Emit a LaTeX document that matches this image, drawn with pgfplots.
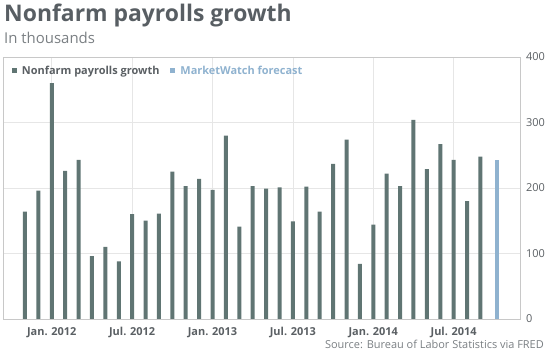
\documentclass[border=0pt]{standalone}
\usepackage{pgfplots}
\pgfplotsset{compat=1.18}
\usepackage{fontspec}
\setmainfont{Open Sans}
\definecolor{barc}{HTML}{607573}
\definecolor{fcst}{HTML}{8FB2CF}
\definecolor{titlec}{HTML}{585E63}
\definecolor{subc}{HTML}{7A7F83}
\definecolor{gridc}{HTML}{E6E6E6}
\definecolor{framec}{HTML}{C8C8C8}
\definecolor{tickc}{HTML}{5A5F63}
\pgfplotstableread{
m v
0 164
1 196
2 360
3 226
4 243
5 96
6 110
7 88
8 160
9 150
10 161
11 225
12 203
13 214
14 197
15 280
16 141
17 203
18 199
19 201
20 149
21 202
22 164
23 237
24 274
25 84
26 144
27 222
28 203
29 304
30 229
31 267
32 243
33 180
34 248
}\payrolls
\pgfplotstableread{
m v
35.25 243
}\forecast
\begin{document}
\begin{tikzpicture}[x=1bp,y=1bp]
\begin{axis}[
  at={(3bp,34bp)}, anchor=south west,
  scale only axis, width=517bp, height=262bp,
  xmin=-1.64, xmax=36.95, ymin=0, ymax=400,
  ybar, bar width=4bp,
  axis line style={framec},
  tick style={draw=none},
  xtick={2,8,14,20,26,32},
  xticklabels={Jan. 2012,Jul. 2012,Jan. 2013,Jul. 2013,Jan. 2014,Jul. 2014},
  xticklabel style={font=\fontsize{11}{13}\selectfont\bfseries, text=tickc, inner sep=0pt, yshift=-4bp},
  ytick={0,100,200,300,400},
  yticklabel pos=right,
  yticklabel style={font=\fontsize{11}{13}\selectfont, text=tickc, anchor=west, inner sep=0pt, xshift=6bp},
  /pgf/number format/assume math mode=true,
  grid=major,
  major grid style={gridc, line width=0.6pt},
  legend columns=2,
  legend style={at={(axis description cs:0.017,0.947)}, anchor=west, draw=none, fill=none, inner sep=0pt,
    font=\fontsize{11}{13}\selectfont\bfseries,
    /tikz/every odd column/.append style={column sep=3bp},
    /tikz/every even column/.append style={column sep=9bp}},
  legend cell align=left,
]
\addplot[fill=barc, draw=none, bar shift=0pt,
  legend image code/.code={\fill[barc] (0bp,-2.5bp) rectangle (5bp,2.5bp);}]
  table[x=m,y=v] {\payrolls};
\addlegendentry{\textcolor{tickc}{Nonfarm payrolls growth}}
\addplot[fill=fcst, draw=none, bar shift=0pt,
  legend image code/.code={\fill[fcst] (0bp,-2.5bp) rectangle (5bp,2.5bp);}]
  table[x=m,y=v] {\forecast};
\addlegendentry{\textcolor{fcst}{MarketWatch forecast}}
\end{axis}
\node[anchor=base west, inner sep=0pt, text=titlec, font=\fontsize{23}{27}\selectfont\bfseries] at (4bp,331bp) {Nonfarm payrolls growth};
\node[anchor=base west, inner sep=0pt, text=subc, font=\fontsize{15}{18}\selectfont] at (4bp,309bp) {In thousands};
\node[anchor=base east, inner sep=0pt, text=subc, font=\fontsize{11}{13}\selectfont] at (544bp,5bp) {Source: Bureau of Labor Statistics via FRED};
\pgfresetboundingbox
\path (0,0) rectangle (550bp,353bp);
\end{tikzpicture}
\end{document}
